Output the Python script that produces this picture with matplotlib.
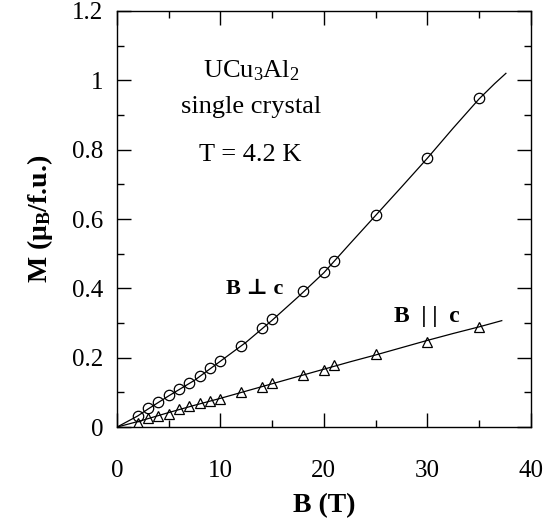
import numpy as np
import matplotlib
matplotlib.use("Agg")
import matplotlib.pyplot as plt
from matplotlib.ticker import MultipleLocator

plt.rcParams['font.family'] = ['Liberation Serif', 'DejaVu Serif']
plt.rcParams['mathtext.fontset'] = 'custom'
plt.rcParams['mathtext.rm'] = 'Liberation Serif'
plt.rcParams['mathtext.it'] = 'Liberation Serif'
plt.rcParams['mathtext.bf'] = 'Liberation Serif:bold'

# measured points, B perpendicular to c
b_perp = [2, 3, 4, 5, 6, 7, 8, 9, 10, 12, 14, 15, 18, 20, 21, 25, 30, 35]
m_perp = [0.032, 0.054, 0.073, 0.092, 0.109, 0.126, 0.147, 0.171, 0.19,
          0.235, 0.285, 0.311, 0.393, 0.448, 0.479, 0.613, 0.775, 0.948]

# measured points, B parallel to c
b_par = [2, 3, 4, 5, 6, 7, 8, 9, 10, 12, 14, 15, 18, 20, 21, 25, 30, 35]
m_par = [0.013, 0.025, 0.033, 0.039, 0.051, 0.061, 0.070, 0.075, 0.082,
         0.100, 0.116, 0.126, 0.151, 0.164, 0.179, 0.21, 0.246, 0.289]

# continuous pulsed-field curves
b_perp_curve = [0, 1, 2, 3, 5, 7.5, 10, 12.5, 15, 17.5, 20, 22.5, 25, 27.5,
                30, 32.5, 35, 36.5, 37.6]
m_perp_curve = [0, 0.016, 0.032, 0.052, 0.09, 0.135, 0.19, 0.245, 0.308,
                0.375, 0.445, 0.528, 0.61, 0.692, 0.775, 0.862, 0.946, 0.99,
                1.02]

b_par_curve = [0, 1, 2.5, 5, 7.5, 10, 12.5, 15, 17.5, 20, 22.5, 25, 27.5,
               30, 32.5, 35, 37.2]
m_par_curve = [0, 0.008, 0.02, 0.042, 0.063, 0.083, 0.104, 0.125, 0.146,
               0.167, 0.188, 0.208, 0.229, 0.25, 0.27, 0.289, 0.307]

fig = plt.figure(figsize=(5.54, 5.19), dpi=100)
ax = fig.add_axes([0.211, 0.177, 0.747, 0.802])

ax.plot(b_perp_curve, m_perp_curve, color='black', lw=0.9)
ax.plot(b_par_curve, m_par_curve, color='black', lw=0.9)
ax.plot(b_perp, m_perp, 'o', mfc='none', mec='black', ms=7.5, mew=0.9)
ax.plot(b_par, m_par, '^', mfc='none', mec='black', ms=7, mew=0.9)

ax.set_xlim(0, 40)
ax.set_ylim(0, 1.2)
ax.xaxis.set_major_locator(MultipleLocator(10))
ax.xaxis.set_minor_locator(MultipleLocator(5))
ax.yaxis.set_minor_locator(MultipleLocator(0.1))
ax.set_yticks([0, 0.2, 0.4, 0.6, 0.8, 1.0, 1.2])
ax.set_yticklabels(['0', '0.2', '0.4', '0.6', '0.8', '1', '1.2'])
ax.tick_params(which='both', direction='in', top=True, right=True,
               labelsize=18, width=1)
ax.tick_params(which='major', length=10)
ax.tick_params(which='minor', length=5)
ax.tick_params(axis='x', which='major', pad=24)
ax.tick_params(axis='y', which='major', pad=10)
for s in ax.spines.values():
    s.set_linewidth(1)

ax.set_xlabel('B (T)', fontsize=20, fontweight='bold', labelpad=8)
ax.set_ylabel(r'M ($\mathbf{\mu_B}$/f.u.)', fontsize=20, fontweight='bold',
              labelpad=12)

ax.text(13.0, 1.027, r'UCu$_3$Al$_2$', fontsize=19, ha='center', va='center')
ax.text(13.0, 0.923, 'single crystal', fontsize=19, ha='center', va='center')
ax.text(12.9, 0.785, 'T = 4.2 K', fontsize=19, ha='center', va='center')
ax.text(13.3, 0.398, 'B \u22a5 c', fontsize=16, fontweight='bold',
        ha='center', va='center', family=['Liberation Serif', 'DejaVu Serif'])
ax.text(30.0, 0.32, 'B  | |  c', fontsize=17, fontweight='bold',
        ha='center', va='center')

fig.savefig('out.png', dpi=100)
